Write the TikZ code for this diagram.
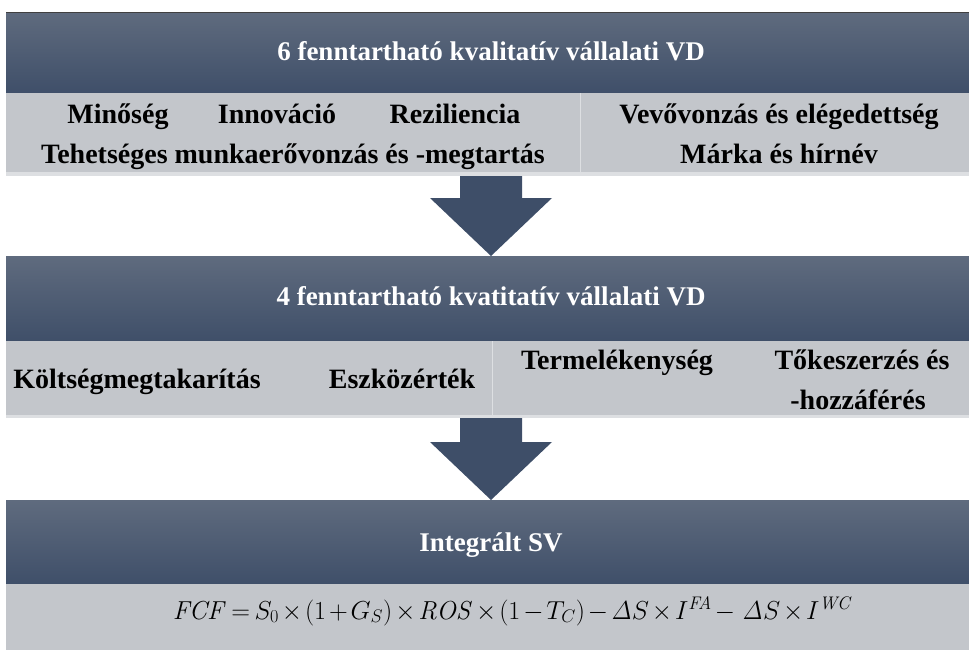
\RequirePackage{fix-cm}
\documentclass[tikz,border=0pt]{standalone}
\usepackage[no-math]{fontspec}
\setmainfont{LiberationSerif}[Extension=.ttf, UprightFont=*-Regular, BoldFont=*-Bold, ItalicFont=*-Italic, BoldItalicFont=*-BoldItalic]
\usetikzlibrary{calc}
\definecolor{bandtop}{HTML}{5F6B7E}
\definecolor{bandbot}{HTML}{3F4F69}
\definecolor{graybg}{HTML}{C3C6CB}
\definecolor{arrowc}{HTML}{3E4E68}
\definecolor{sepline}{HTML}{DDDFE2}
\begin{document}
\begin{tikzpicture}[x=1pt,y=-1pt,
  band/.style={anchor=north west, minimum width=963pt, inner sep=0pt, outer sep=0pt,
    top color=bandtop, bottom color=bandbot},
  grayband/.style={anchor=north west, minimum width=963pt, inner sep=0pt, outer sep=0pt, fill=graybg},
  strip/.style={anchor=north west, minimum width=963pt, inner sep=0pt, outer sep=0pt, fill=sepline},
  title/.style={text=white, font=\bfseries\fontsize{27}{30}\selectfont, inner sep=0pt, anchor=base},
  item/.style={font=\bfseries\fontsize{28}{38}\selectfont, text=black, inner sep=0pt, align=center, anchor=base},
  blockarrow/.style={fill=arrowc, draw=none},
  divider/.style={draw=sepline, line width=1pt}
]
\useasboundingbox (0,0) rectangle (969,653);

% bands
\node[band, minimum height=81pt] (b1) at (6,12) {};
\node[grayband, minimum height=79pt] (g1) at (6,93) {};
\node[strip, minimum height=4pt] (s1) at (6,172) {};
\node[band, minimum height=85pt] (b2) at (6,256) {};
\node[grayband, minimum height=74pt] (g2) at (6,341) {};
\node[strip, minimum height=3pt] (s2) at (6,415) {};
\node[band, minimum height=84pt] (b3) at (6,500) {};
\node[grayband, minimum height=66pt] (g3) at (6,584) {};

\draw[draw=black!75, line width=1pt] (b1.north west) -- (b1.north east);

% dividers
\draw[divider] (580,93) -- (580,176);
\draw[divider] (492,341) -- (492,418);

% titles
\node[title] (t1) at (491,60) {6 fenntartható kvalitatív vállalati VD};
\node[title] (t2) at (491,305) {4 fenntartható kvatitatív vállalati VD};
\node[title] (t3) at (491,551) {Integrált SV};

% row items band 1
\node[item] (i1) at (118,123) {Minőség};
\node[item] (i2) at (277,123) {Innováció};
\node[item] (i3) at (455,123) {Reziliencia};
\node[item] (i4) at (779,123) {Vevővonzás és elégedettség};
\node[item] (i5) at (293,163) {Tehetséges munkaerővonzás és -megtartás};
\node[item] (i6) at (779,163) {Márka és hírnév};

% row items band 2
\node[item] (k1) at (137,388) {Költségmegtakarítás};
\node[item] (k2) at (402,388) {Eszközérték};
\node[item] (k3) at (617,369) {Termelékenység};
\node[item] (k4) at (862,369) {Tőkeszerzés és};
\node[item] (k5) at (858,409) {-hozzáférés};

% formula
\node[inner sep=0pt, anchor=base, font=\fontsize{26}{30}\selectfont] (f) at (513,619)
  {\thickmuskip=3mu\medmuskip=2mu$\mathit{FCF}=S_0\times(1+G_S)\times \mathit{ROS}\times(1-T_C)-\mathit{\Delta} S\times I^{\mathit{FA}}-\;\mathit{\Delta} S\times I^{\mathit{WC}}$};

% block arrows
\fill[blockarrow] (460,176) -- (522,176) -- (522,198) -- (552,198) -- (b2.north -| 491,0) -- (430,198) -- (460,198) -- cycle;
\fill[blockarrow] (460,418) -- (522,418) -- (522,442) -- (552,442) -- (b3.north -| 491,0) -- (430,442) -- (460,442) -- cycle;
\end{tikzpicture}
\end{document}
